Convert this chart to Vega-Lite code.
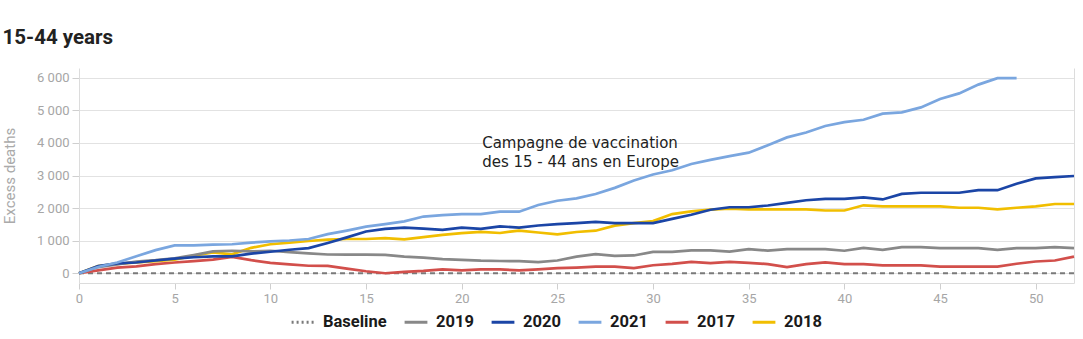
{
  "$schema": "https://vega.github.io/schema/vega-lite/v6.json",
  "width": 995,
  "height": 215,
  "autosize": {"type": "none"},
  "padding": {"left": 79, "top": 68, "right": 9, "bottom": 56},
  "background": "white",
  "title": {"text": "15-44 years", "anchor": "start", "frame": "bounds", "offset": 4, "baseline": "alphabetic", "font": "Roboto", "fontSize": 20.5, "fontWeight": "bold", "color": "#222222"},
  "config": {
    "view": {"stroke": null},
    "axis": {"labelFont": "Roboto", "labelFontSize": 13, "labelColor": "#a6a6a6", "domainColor": "#dcdcdc", "tickColor": "#cfcfcf", "gridColor": "#e2e2e2", "titleFont": "Roboto", "titleFontWeight": "normal", "titleColor": "#aaaaaa", "titleFontSize": 15, "labelFlush": false},
    "legend": {"title": null, "orient": "none", "legendX": 211, "legendY": 241, "direction": "horizontal",
               "labelFont": "Roboto", "labelFontSize": 16.5, "labelFontWeight": "bold", "labelColor": "#1a1a1a",
               "symbolType": "stroke", "symbolStrokeWidth": 3, "symbolSize": 520, "columnPadding": 11, "labelOffset": 7}
  },
  "datasets": {
    "base": [{"s": "Baseline", "w": 0, "v": 0}, {"s": "Baseline", "w": 52, "v": 0}],
    "note": [{"w": 21.07, "v": 3985, "t": ["Campagne de vaccination", "des 15 - 44 ans en Europe"]}],
    "lines": [
      {"s":"2017","w":0,"v":0},{"s":"2017","w":1,"v":90},{"s":"2017","w":2,"v":170},{"s":"2017","w":3,"v":210},{"s":"2017","w":4,"v":280},{"s":"2017","w":5,"v":330},{"s":"2017","w":6,"v":370},{"s":"2017","w":7,"v":420},{"s":"2017","w":8,"v":500},{"s":"2017","w":9,"v":400},{"s":"2017","w":10,"v":320},{"s":"2017","w":11,"v":270},{"s":"2017","w":12,"v":230},{"s":"2017","w":13,"v":225},{"s":"2017","w":14,"v":140},{"s":"2017","w":15,"v":60},{"s":"2017","w":16,"v":0},{"s":"2017","w":17,"v":40},{"s":"2017","w":18,"v":70},{"s":"2017","w":19,"v":120},{"s":"2017","w":20,"v":85},{"s":"2017","w":21,"v":120},{"s":"2017","w":22,"v":120},{"s":"2017","w":23,"v":85},{"s":"2017","w":24,"v":120},{"s":"2017","w":25,"v":155},{"s":"2017","w":26,"v":175},{"s":"2017","w":27,"v":205},{"s":"2017","w":28,"v":205},{"s":"2017","w":29,"v":155},{"s":"2017","w":30,"v":245},{"s":"2017","w":31,"v":285},{"s":"2017","w":32,"v":350},{"s":"2017","w":33,"v":310},{"s":"2017","w":34,"v":350},{"s":"2017","w":35,"v":320},{"s":"2017","w":36,"v":280},{"s":"2017","w":37,"v":185},{"s":"2017","w":38,"v":280},{"s":"2017","w":39,"v":330},{"s":"2017","w":40,"v":280},{"s":"2017","w":41,"v":280},{"s":"2017","w":42,"v":240},{"s":"2017","w":43,"v":240},{"s":"2017","w":44,"v":240},{"s":"2017","w":45,"v":205},{"s":"2017","w":46,"v":205},{"s":"2017","w":47,"v":205},{"s":"2017","w":48,"v":205},{"s":"2017","w":49,"v":290},{"s":"2017","w":50,"v":360},{"s":"2017","w":51,"v":390},{"s":"2017","w":52,"v":510},
      {"s":"2018","w":0,"v":0},{"s":"2018","w":1,"v":220},{"s":"2018","w":2,"v":290},{"s":"2018","w":3,"v":330},{"s":"2018","w":4,"v":370},{"s":"2018","w":5,"v":420},{"s":"2018","w":6,"v":540},{"s":"2018","w":7,"v":640},{"s":"2018","w":8,"v":580},{"s":"2018","w":9,"v":780},{"s":"2018","w":10,"v":890},{"s":"2018","w":11,"v":940},{"s":"2018","w":12,"v":990},{"s":"2018","w":13,"v":1030},{"s":"2018","w":14,"v":1050},{"s":"2018","w":15,"v":1050},{"s":"2018","w":16,"v":1080},{"s":"2018","w":17,"v":1040},{"s":"2018","w":18,"v":1110},{"s":"2018","w":19,"v":1180},{"s":"2018","w":20,"v":1230},{"s":"2018","w":21,"v":1270},{"s":"2018","w":22,"v":1235},{"s":"2018","w":23,"v":1310},{"s":"2018","w":24,"v":1250},{"s":"2018","w":25,"v":1195},{"s":"2018","w":26,"v":1265},{"s":"2018","w":27,"v":1305},{"s":"2018","w":28,"v":1460},{"s":"2018","w":29,"v":1540},{"s":"2018","w":30,"v":1600},{"s":"2018","w":31,"v":1815},{"s":"2018","w":32,"v":1900},{"s":"2018","w":33,"v":1950},{"s":"2018","w":34,"v":1980},{"s":"2018","w":35,"v":1960},{"s":"2018","w":36,"v":1960},{"s":"2018","w":37,"v":1960},{"s":"2018","w":38,"v":1960},{"s":"2018","w":39,"v":1925},{"s":"2018","w":40,"v":1925},{"s":"2018","w":41,"v":2085},{"s":"2018","w":42,"v":2055},{"s":"2018","w":43,"v":2055},{"s":"2018","w":44,"v":2055},{"s":"2018","w":45,"v":2055},{"s":"2018","w":46,"v":2010},{"s":"2018","w":47,"v":2010},{"s":"2018","w":48,"v":1960},{"s":"2018","w":49,"v":2010},{"s":"2018","w":50,"v":2055},{"s":"2018","w":51,"v":2125},{"s":"2018","w":52,"v":2125},
      {"s":"2019","w":0,"v":0},{"s":"2019","w":1,"v":190},{"s":"2019","w":2,"v":270},{"s":"2019","w":3,"v":360},{"s":"2019","w":4,"v":400},{"s":"2019","w":5,"v":460},{"s":"2019","w":6,"v":560},{"s":"2019","w":7,"v":670},{"s":"2019","w":8,"v":690},{"s":"2019","w":9,"v":670},{"s":"2019","w":10,"v":690},{"s":"2019","w":11,"v":650},{"s":"2019","w":12,"v":610},{"s":"2019","w":13,"v":575},{"s":"2019","w":14,"v":570},{"s":"2019","w":15,"v":570},{"s":"2019","w":16,"v":565},{"s":"2019","w":17,"v":510},{"s":"2019","w":18,"v":480},{"s":"2019","w":19,"v":435},{"s":"2019","w":20,"v":410},{"s":"2019","w":21,"v":385},{"s":"2019","w":22,"v":375},{"s":"2019","w":23,"v":370},{"s":"2019","w":24,"v":340},{"s":"2019","w":25,"v":390},{"s":"2019","w":26,"v":510},{"s":"2019","w":27,"v":585},{"s":"2019","w":28,"v":535},{"s":"2019","w":29,"v":545},{"s":"2019","w":30,"v":655},{"s":"2019","w":31,"v":655},{"s":"2019","w":32,"v":700},{"s":"2019","w":33,"v":700},{"s":"2019","w":34,"v":665},{"s":"2019","w":35,"v":740},{"s":"2019","w":36,"v":695},{"s":"2019","w":37,"v":740},{"s":"2019","w":38,"v":740},{"s":"2019","w":39,"v":740},{"s":"2019","w":40,"v":690},{"s":"2019","w":41,"v":775},{"s":"2019","w":42,"v":720},{"s":"2019","w":43,"v":800},{"s":"2019","w":44,"v":800},{"s":"2019","w":45,"v":770},{"s":"2019","w":46,"v":770},{"s":"2019","w":47,"v":770},{"s":"2019","w":48,"v":720},{"s":"2019","w":49,"v":770},{"s":"2019","w":50,"v":770},{"s":"2019","w":51,"v":800},{"s":"2019","w":52,"v":770},
      {"s":"2020","w":0,"v":0},{"s":"2020","w":1,"v":220},{"s":"2020","w":2,"v":300},{"s":"2020","w":3,"v":330},{"s":"2020","w":4,"v":390},{"s":"2020","w":5,"v":450},{"s":"2020","w":6,"v":490},{"s":"2020","w":7,"v":520},{"s":"2020","w":8,"v":520},{"s":"2020","w":9,"v":600},{"s":"2020","w":10,"v":660},{"s":"2020","w":11,"v":720},{"s":"2020","w":12,"v":770},{"s":"2020","w":13,"v":930},{"s":"2020","w":14,"v":1100},{"s":"2020","w":15,"v":1280},{"s":"2020","w":16,"v":1360},{"s":"2020","w":17,"v":1400},{"s":"2020","w":18,"v":1370},{"s":"2020","w":19,"v":1330},{"s":"2020","w":20,"v":1400},{"s":"2020","w":21,"v":1360},{"s":"2020","w":22,"v":1440},{"s":"2020","w":23,"v":1400},{"s":"2020","w":24,"v":1465},{"s":"2020","w":25,"v":1510},{"s":"2020","w":26,"v":1540},{"s":"2020","w":27,"v":1575},{"s":"2020","w":28,"v":1540},{"s":"2020","w":29,"v":1540},{"s":"2020","w":30,"v":1540},{"s":"2020","w":31,"v":1670},{"s":"2020","w":32,"v":1795},{"s":"2020","w":33,"v":1950},{"s":"2020","w":34,"v":2025},{"s":"2020","w":35,"v":2025},{"s":"2020","w":36,"v":2080},{"s":"2020","w":37,"v":2160},{"s":"2020","w":38,"v":2240},{"s":"2020","w":39,"v":2280},{"s":"2020","w":40,"v":2280},{"s":"2020","w":41,"v":2330},{"s":"2020","w":42,"v":2265},{"s":"2020","w":43,"v":2435},{"s":"2020","w":44,"v":2470},{"s":"2020","w":45,"v":2470},{"s":"2020","w":46,"v":2470},{"s":"2020","w":47,"v":2550},{"s":"2020","w":48,"v":2550},{"s":"2020","w":49,"v":2745},{"s":"2020","w":50,"v":2910},{"s":"2020","w":51,"v":2950},{"s":"2020","w":52,"v":2985},
      {"s":"2021","w":0,"v":0},{"s":"2021","w":1,"v":190},{"s":"2021","w":2,"v":330},{"s":"2021","w":3,"v":520},{"s":"2021","w":4,"v":710},{"s":"2021","w":5,"v":855},{"s":"2021","w":6,"v":855},{"s":"2021","w":7,"v":880},{"s":"2021","w":8,"v":890},{"s":"2021","w":9,"v":940},{"s":"2021","w":10,"v":975},{"s":"2021","w":11,"v":1005},{"s":"2021","w":12,"v":1050},{"s":"2021","w":13,"v":1200},{"s":"2021","w":14,"v":1310},{"s":"2021","w":15,"v":1430},{"s":"2021","w":16,"v":1510},{"s":"2021","w":17,"v":1590},{"s":"2021","w":18,"v":1740},{"s":"2021","w":19,"v":1785},{"s":"2021","w":20,"v":1815},{"s":"2021","w":21,"v":1815},{"s":"2021","w":22,"v":1890},{"s":"2021","w":23,"v":1890},{"s":"2021","w":24,"v":2095},{"s":"2021","w":25,"v":2225},{"s":"2021","w":26,"v":2300},{"s":"2021","w":27,"v":2430},{"s":"2021","w":28,"v":2620},{"s":"2021","w":29,"v":2845},{"s":"2021","w":30,"v":3030},{"s":"2021","w":31,"v":3160},{"s":"2021","w":32,"v":3355},{"s":"2021","w":33,"v":3480},{"s":"2021","w":34,"v":3595},{"s":"2021","w":35,"v":3700},{"s":"2021","w":36,"v":3930},{"s":"2021","w":37,"v":4170},{"s":"2021","w":38,"v":4320},{"s":"2021","w":39,"v":4520},{"s":"2021","w":40,"v":4640},{"s":"2021","w":41,"v":4710},{"s":"2021","w":42,"v":4900},{"s":"2021","w":43,"v":4940},{"s":"2021","w":44,"v":5090},{"s":"2021","w":45,"v":5350},{"s":"2021","w":46,"v":5520},{"s":"2021","w":47,"v":5790},{"s":"2021","w":48,"v":5990},{"s":"2021","w":49,"v":5990}
    ]
  },
  "resolve": {"axis": {"y": "independent", "x": "independent"}},
  "layer": [
    {
      "data": {"name": "base"},
      "mark": {"type": "line", "strokeWidth": 2, "strokeDash": [5, 4]},
      "encoding": {
        "x": {"field": "w", "type": "quantitative", "scale": {"domain": [0, 52], "nice": false}, "axis": null},
        "y": {"field": "v", "type": "quantitative", "scale": {"domain": [-300, 6300], "nice": false, "zero": false}, "axis": null},
        "color": {"field": "s", "type": "nominal", "scale": {"domain": ["Baseline", "2019", "2020", "2021", "2017", "2018"], "range": ["#7a7a7a", "#888888", "#1b45a6", "#7aa6df", "#d24f4b", "#f1be00"]},
                  "legend": {"encode": {"symbols": {"update": {"strokeDash": {"signal": "datum.value === 'Baseline' ? [2, 3] : [1, 0]"}}}}}}
      }
    },
    {
      "data": {"name": "lines"},
      "mark": {"type": "line", "strokeWidth": 2.7},
      "encoding": {
        "x": {"field": "w", "type": "quantitative", "scale": {"domain": [0, 52], "nice": false},
              "axis": {"title": null, "values": [0, 5, 10, 15, 20, 25, 30, 35, 40, 45, 50], "grid": false, "tickSize": 6, "labelPadding": 3}},
        "y": {"field": "v", "type": "quantitative", "scale": {"domain": [-300, 6300], "nice": false, "zero": false},
              "axis": {"title": "Excess deaths", "values": [0, 1000, 2000, 3000, 4000, 5000, 6000], "grid": true, "tickSize": 7, "labelPadding": 3, "titlePadding": 19,
                       "labelExpr": "replace(format(datum.value, ','), ',', ' ')"}},
        "color": {"field": "s", "type": "nominal", "scale": {"domain": ["Baseline", "2019", "2020", "2021", "2017", "2018"], "range": ["#7a7a7a", "#888888", "#1b45a6", "#7aa6df", "#d24f4b", "#f1be00"]},
                  "legend": {"encode": {"symbols": {"update": {"strokeDash": {"signal": "datum.value === 'Baseline' ? [2, 3] : [1, 0]"}}}}}}
      }
    },
    {
      "data": {"name": "note"},
      "mark": {"type": "text", "font": "DejaVu Sans", "fontSize": 15, "align": "left", "baseline": "middle", "lineHeight": 19, "color": "#222222"},
      "encoding": {
        "x": {"field": "w", "type": "quantitative", "scale": {"domain": [0, 52], "nice": false}, "axis": null},
        "y": {"field": "v", "type": "quantitative", "scale": {"domain": [-300, 6300], "nice": false, "zero": false},
              "axis": {"orient": "right", "title": null, "labels": false, "ticks": false, "grid": false, "domainColor": "#dcdcdc"}},
        "text": {"field": "t"}
      }
    }
  ]
}
